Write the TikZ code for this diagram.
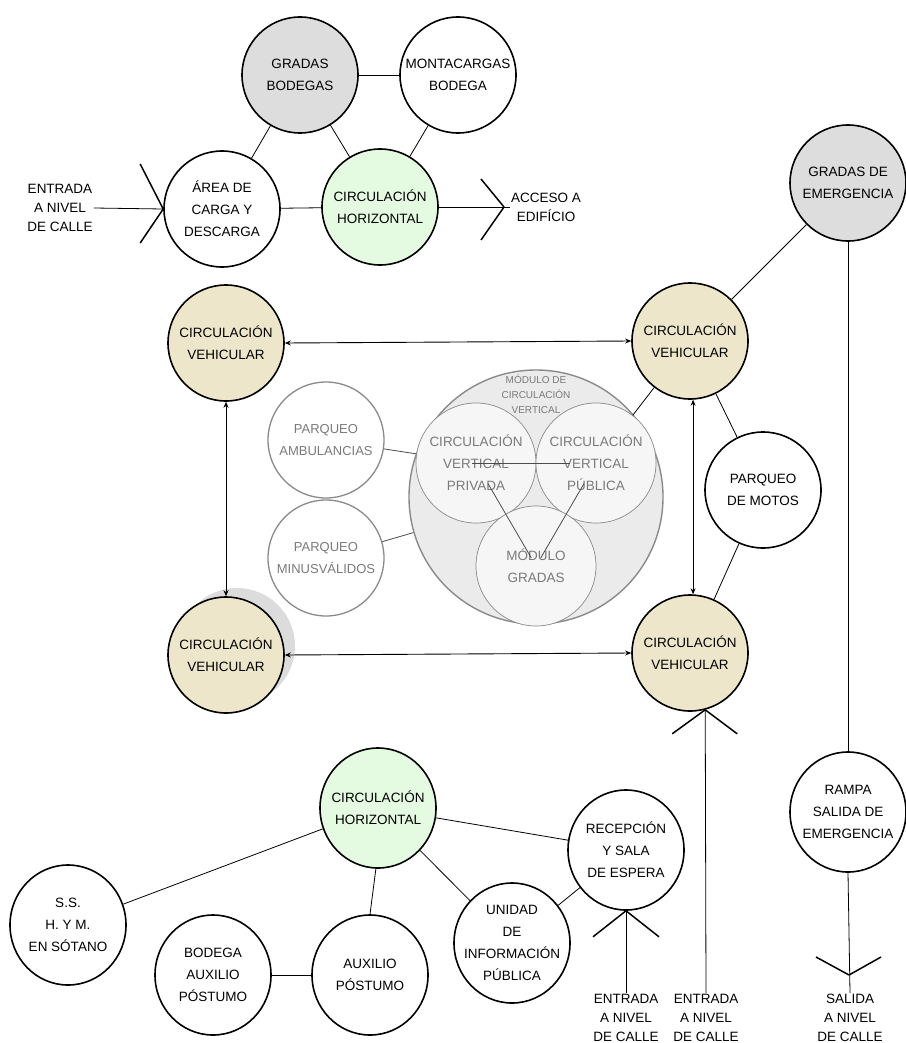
\documentclass[tikz,border=0pt]{standalone}
\usepackage{fontspec}
\setmainfont{Liberation Sans}
\usetikzlibrary{arrows.meta,shapes.geometric,calc}
\definecolor{grayfill}{HTML}{DDDDDD}
\definecolor{greenfill}{HTML}{E4FBE2}
\definecolor{beigefill}{HTML}{EDE6CA}
\definecolor{modfill}{HTML}{EBEBEB}
\definecolor{innerfill}{HTML}{F6F6F6}
\definecolor{softline}{HTML}{8A8A8A}
\definecolor{softtext}{HTML}{7A7A7A}
\definecolor{shadowfill}{HTML}{DCDCDC}
\begin{document}
\begin{tikzpicture}[x=1pt,y=-1pt,
  bub/.style={circle,draw=black,line width=1.6pt,minimum size=116pt,inner sep=0pt,align=center,font=\fontsize{13.5}{22}\selectfont},
  ebub/.style={ellipse,draw=black,line width=1.6pt,minimum width=116pt,minimum height=120pt,inner xsep=-12pt,inner ysep=0pt,align=center,font=\fontsize{13.5}{22}\selectfont},
  pbub/.style={circle,draw=softline,line width=1.3pt,minimum size=116pt,inner sep=0pt,align=center,text=softtext,font=\fontsize{13}{22}\selectfont},
  ibub/.style={circle,draw=softline,line width=0.7pt,fill=innerfill,minimum size=120pt,inner sep=0pt,align=center,text=softtext,font=\fontsize{13.5}{22}\selectfont},
  conn/.style={line width=0.8pt},
  sconn/.style={line width=0.8pt,draw=black!70},
  dbl/.style={line width=0.9pt,{Stealth[length=6pt,width=5pt]}-{Stealth[length=6pt,width=5pt]}},
  gate/.style={line width=1.5pt},
  lbl/.style={align=center,inner sep=1pt,font=\fontsize{13.5}{19}\selectfont}
]
\useasboundingbox (0,0) rectangle (905,1043);

% ---------- top group ----------
\node[bub,fill=grayfill] (gb) at (300,75) {GRADAS\\BODEGAS};
\node[bub] (mb) at (458,75) {MONTACARGAS\\BODEGA};
\node[bub] (area) at (222,209) {ÁREA DE\\CARGA Y\\DESCARGA};
\node[bub,fill=greenfill] (cht) at (380,207) {CIRCULACIÓN\\HORIZONTAL};
\node[lbl] (ent1) at (60,208) {ENTRADA\\A NIVEL\\DE CALLE};
\node[lbl,anchor=west] (acc) at (510,207) {ACCESO A\\EDIFÍCIO};

\draw[conn] (gb.east) -- (mb.west);
\draw[conn] (gb) -- (area);
\draw[conn] (gb) -- (cht);
\draw[conn] (mb) -- (cht);
\draw[conn] (area) -- (cht);
\draw[conn] (ent1.east) -- (area.west);
\draw[conn] (cht.east) -- (acc.west);
\coordinate (g1) at (area.west);
\draw[gate] (g1) -- ++(-23,-45);
\draw[gate] (g1) -- ++(-23,34);
\coordinate (g2) at (504,207);
\draw[gate] (g2) -- ++(-23,-28);
\draw[gate] (g2) -- ++(-23,33);

% ---------- middle group ----------
\fill[shadowfill] (237,646) circle (58);
\node[bub,fill=beigefill] (cvtl) at (226,343) {CIRCULACIÓN\\VEHICULAR};
\node[bub,fill=beigefill] (cvtr) at (690,341) {CIRCULACIÓN\\VEHICULAR};
\node[bub,fill=beigefill] (cvbl) at (226,655) {CIRCULACIÓN\\VEHICULAR};
\node[bub,fill=beigefill] (cvbr) at (690,653) {CIRCULACIÓN\\VEHICULAR};
\node[bub,fill=grayfill] (ge) at (848,183) {GRADAS DE\\EMERGENCIA};
\node[bub] (motos) at (763,490) {PARQUEO\\DE MOTOS};

\node[pbub] (amb) at (326,440) {PARQUEO\\AMBULANCIAS};
\node[pbub] (minu) at (326,558) {PARQUEO\\MINUSVÁLIDOS};
\node[circle,draw=softline,line width=1.4pt,fill=modfill,minimum size=254pt] (mod) at (536,497) {};
\node[ibub] (priv) at (476,463) {CIRCULACIÓN\\VERTICAL\\PRIVADA};
\node[ibub] (pub) at (596,463) {CIRCULACIÓN\\VERTICAL\\PÚBLICA};
\node[ibub] (grad) at (536,566) {MÓDULO\\GRADAS};
\node[align=center,text=softtext,inner sep=0pt,font=\fontsize{10}{15}\selectfont] (modl) at (536,394) {MÓDULO DE\\CIRCULACIÓN\\VERTICAL};

\draw[sconn] ($(priv.center)+(-4,0)$) -- ($(pub.center)+(-26,0)$);
\draw[sconn] ($(priv.center)!0.2!(grad.center)$) -- ($(priv.center)!0.92!(grad.center)$);
\draw[sconn] ($(pub.center)!0.2!(grad.center)$) -- ($(pub.center)!0.92!(grad.center)$);
\draw[sconn] (amb) -- (priv);
\draw[sconn] (minu) -- (mod);

\draw[dbl] (cvtl.east) -- (cvtr.west);
\draw[dbl] (cvtl.south) -- (cvbl.north);
\draw[dbl] (cvtr.-87) -- (cvbr.87);
\draw[dbl] (cvbl.east) -- (cvbr.west);
\draw[conn] (cvtr) -- (pub);
\draw[conn] (cvtr) -- (motos);
\draw[conn] (motos) -- (cvbr);
\draw[conn] (ge) -- (cvtr);

% ---------- bottom group ----------
\node[ebub,fill=greenfill] (chb) at (378,808) {CIRCULACIÓN\\HORIZONTAL};
\node[ebub] (rec) at (626,850) {RECEPCIÓN\\Y SALA\\DE ESPERA};
\node[ebub] (ss) at (68,925) {S.S.\\H. Y M.\\EN SÓTANO};
\node[ebub] (bod) at (213,975) {BODEGA\\AUXILIO\\PÓSTUMO};
\node[ebub] (aux) at (370,975) {AUXILIO\\PÓSTUMO};
\node[ebub] (uni) at (512,943) {UNIDAD\\DE\\INFORMACIÓN\\PÚBLICA};
\node[ebub] (rampa) at (848,812) {RAMPA\\SALIDA DE\\EMERGENCIA};

\node[lbl] (ent2) at (626,1018) {ENTRADA\\A NIVEL\\DE CALLE};
\node[lbl] (ent3) at (706,1018) {ENTRADA\\A NIVEL\\DE CALLE};
\node[lbl] (sal) at (850,1018) {SALIDA\\A NIVEL\\DE CALLE};

\draw[conn] (chb) -- (ss);
\draw[conn] (chb.-92) -- (aux.north);
\draw[conn] (chb) -- (uni);
\draw[conn] (chb) -- (rec);
\draw[conn] (rec) -- (uni);
\draw[conn] (bod) -- (aux);
\draw[conn] (ge.south) -- (rampa.north);
\draw[conn] (ent2.north) -- (rec.south);
\draw[conn] (ent3.north) -- (cvbr.-75);
\draw[conn] (rampa.south) -- (sal.north);

\coordinate (g3) at (rec.south);
\draw[gate] (g3) -- ++(-33,26);
\draw[gate] (g3) -- ++(33,26);
\coordinate (g4) at (cvbr.-75);
\draw[gate] (g4) -- ++(-33,24);
\draw[gate] (g4) -- ++(32,24);
\coordinate (g5) at (849,975);
\draw[gate] (g5) -- ++(-33,-18);
\draw[gate] (g5) -- ++(32,-18);
\end{tikzpicture}
\end{document}
